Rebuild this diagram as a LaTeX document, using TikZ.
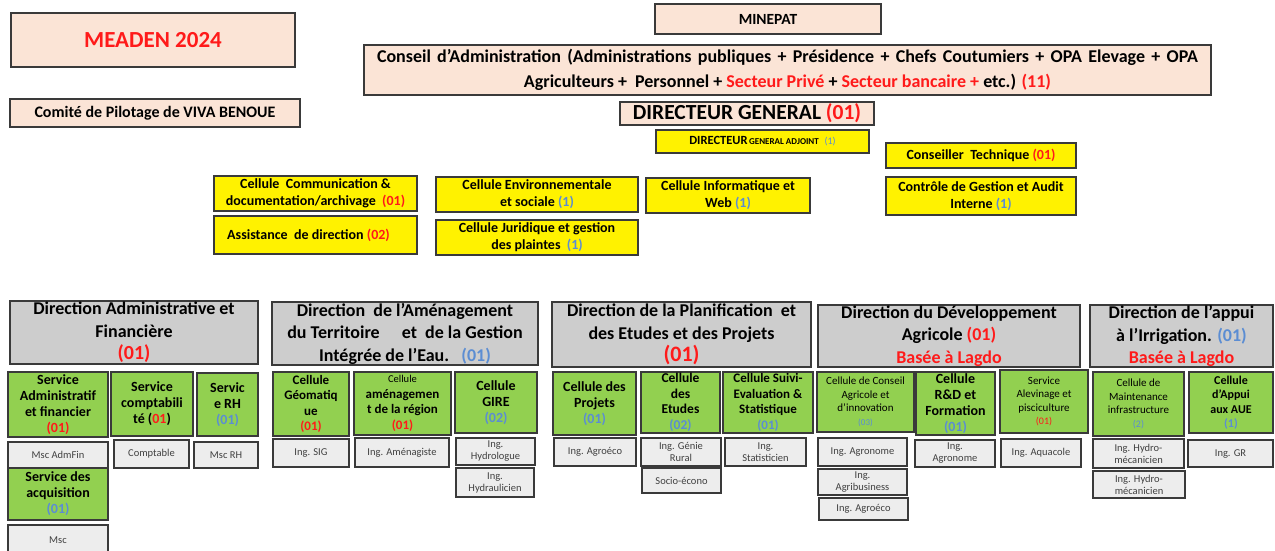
\documentclass[tikz,border=0pt]{standalone}
\usepackage{fontspec}
\setmainfont{Carlito}
\definecolor{peach}{HTML}{FBE4D6}
\definecolor{dirgrey}{HTML}{CDCDCD}
\definecolor{grn}{HTML}{92D050}
\definecolor{subgrey}{HTML}{EDEDED}
\definecolor{bdr}{HTML}{3A3A3A}
\definecolor{redt}{HTML}{FF1A1A}
\definecolor{bluet}{HTML}{5B8DD3}
\definecolor{subtxt}{HTML}{404040}
\newcommand{\rt}[1]{\textcolor{redt}{#1}}
\newcommand{\bt}[1]{\textcolor{bluet}{#1}}
\newcommand{\fs}[2]{\fontsize{#1}{#2}\selectfont}
% box: style, name, x1, y1, x2, y2, text
\newcommand{\bx}[7]{\node[#1, minimum width={(#5)-(#3)}, minimum height={(#6)-(#4)}] (#2) at ({((#3)+(#5))/2},{((#4)+(#6))/2}) {#7};}
\tikzset{
  boxbase/.style={draw=bdr, line width=1.3pt, inner sep=0pt, align=center, text=black},
  peachbox/.style={boxbase, fill=peach},
  ylwbox/.style={boxbase, fill=yellow, font=\bfseries\fs{14}{17}},
  dirbox/.style={boxbase, fill=dirgrey, line width=1.5pt, font=\bfseries\fs{18}{22.5}},
  grnbox/.style={boxbase, fill=grn, font=\bfseries\fs{14}{16}},
  subbox/.style={boxbase, fill=subgrey, text=subtxt, font=\fs{10.5}{12}},
}
\begin{document}
\begin{tikzpicture}[x=1pt, y=-1pt]
\useasboundingbox (0,0) rectangle (1275,550);

% governance and general management
\bx{peachbox, font=\bfseries\fs{23}{26}}{meaden}{11}{13}{295}{67}{\rt{MEADEN 2024}}
\bx{peachbox, font=\bfseries\fs{16}{18}}{copil}{10}{99}{300}{127}{Comité de Pilotage de VIVA BENOUE}
\bx{peachbox, font=\bfseries\fs{15.5}{18}}{minepat}{655}{4}{881}{34}{MINEPAT}
\bx{peachbox, font=\bfseries\fs{18}{25}}{ca}{364}{45}{1211}{95}{\makebox[821pt][s]{Conseil d’Administration (Administrations publiques + Présidence + Chefs Coutumiers + OPA Elevage + OPA}\\Agriculteurs +\ \ Personnel + \rt{Secteur Privé} + \rt{Secteur bancaire +} etc.) \rt{(11)}}
\bx{peachbox, font=\bfseries\fs{21.5}{23}}{dg}{620}{102}{874}{125}{DIRECTEUR GENERAL \rt{(01)}}
\bx{ylwbox, font=\bfseries\fs{12.5}{14}}{dga}{656}{130}{869}{153}{DIRECTEUR{\fs{9}{11}\,GENERAL ADJOINT} \ \bt{\mdseries\fs{10}{11}(1)}}

% staff units attached to the general management
\bx{ylwbox}{ct}{886}{143}{1076}{168}{Conseiller\ \ Technique \rt{(01)}}
\bx{ylwbox}{cga}{886}{177}{1076}{215}{Contrôle de Gestion et Audit\\Interne \bt{(1)}}
\bx{ylwbox}{ccom}{214}{176}{417}{211}{Cellule\ \ Communication \&\\documentation/archivage\ \ \rt{(01)}}
\bx{ylwbox}{assist}{214}{216}{417}{254}{Assistance\ \ de direction \rt{(02)}\hspace{14pt}}
\bx{ylwbox}{cenv}{436}{177}{638}{212}{Cellule Environnementale\\et sociale \bt{(1)}}
\bx{ylwbox}{cjur}{436}{220}{638}{255}{Cellule Juridique et gestion\\des plaintes\ \ \bt{(1)}}
\bx{ylwbox}{cinf}{646}{178}{810}{213}{Cellule Informatique et\\Web \bt{(1)}}

% directorates
\bx{dirbox}{daf}{10}{301}{258}{364}{Direction Administrative et\\Financière\\{\fs{20}{22.5}\rt{(01)}}}
\bx{dirbox}{datgie}{272}{302}{538}{365}{Direction\ \ de l’Aménagement\\du Territoire \quad et\ \ de la Gestion\\Intégrée de l’Eau.\ \ \ \bt{(01)}}
\bx{dirbox}{dpep}{552}{302}{811}{367}{Direction de la Planification\ \ et\\des Etudes et des Projets\\{\fs{22}{22.5}\rt{(01)}}}
\bx{dirbox}{dda}{818}{305}{1080}{367}{Direction du Développement\\Agricole \rt{(01)}\\\rt{Basée à Lagdo}}
\bx{dirbox}{dai}{1090}{305}{1273}{367}{Direction de l’appui\\à l’Irrigation. \bt{(01)}\\\rt{Basée à Lagdo}}

% services and cells
\bx{grnbox}{sadm}{8}{372}{108}{437}{Service\\Administratif\\et financier\\\rt{(01)}}
\bx{grnbox}{scpt}{111}{372}{193}{436}{Service\\comptabili\\té (\rt{01})}
\bx{grnbox}{srh}{197}{373}{258}{436}{Servic\\e RH\\\bt{(01)}}
\bx{grnbox}{sacq}{8}{468}{108}{520}{Service des\\acquisition\\\bt{(01)}}
\bx{grnbox, font=\bfseries\fs{13}{15.5}}{cgeo}{273}{372}{349}{436}{Cellule\\Géomatiq\\ue\\\rt{(01)}}
\bx{grnbox, font=\bfseries\fs{13}{15.5}}{camen}{354}{372}{451}{435}{{\mdseries\fs{10.5}{12}Cellule}\\aménagemen\\t de la région\\\rt{(01)}}
\bx{grnbox}{cgire}{455}{372}{537}{433}{Cellule\\GIRE\\\bt{(02)}}
\bx{grnbox}{cproj}{553}{372}{636}{435}{Cellule des\\Projets\\\bt{(01)}}
\bx{grnbox, font=\bfseries\fs{13.5}{15.5}}{cetu}{641}{372}{720}{433}{Cellule\\des\\Etudes\\\bt{(02)}}
\bx{grnbox, font=\bfseries\fs{13}{15.5}}{csuivi}{723}{372}{813}{433}{Cellule Suivi-\\Evaluation \&\\Statistique\\\bt{(01)}}
\bx{grnbox, font=\fs{11}{13.5}}{ccons}{817}{372}{914}{432}{Cellule de Conseil\\Agricole et\\d’innovation\\{\fs{9}{11}\bt{(03)}}}
\bx{grnbox}{crd}{916}{372}{995}{435}{Cellule\\R\&D et\\Formation\\\bt{(01)}}
\bx{grnbox, font=\fs{11}{13.5}}{salev}{1000}{370}{1088}{433}{Service\\Alevinage et\\pisciculture\\{\fs{10}{11}\rt{(01)}}}
\bx{grnbox, font=\fs{11}{13.5}}{cmaint}{1093}{372}{1184}{436}{Cellule de\\Maintenance\\infrastructure\\{\fs{10}{11}\bt{(2)}}}
\bx{grnbox, font=\bfseries\fs{12}{14.5}}{caue}{1189}{372}{1273}{433}{Cellule\\d’Appui\\aux AUE\\\bt{(1)}}

% staff profiles
\bx{subbox}{mscadm}{8}{442}{108}{468}{Msc AdmFin}
\bx{subbox}{compt}{114}{440}{189}{468}{Comptable}
\bx{subbox}{mscrh}{194}{442}{258}{468}{Msc RH}
\bx{subbox}{msc}{8}{525}{108}{556}{Msc}
\bx{subbox}{sig}{273}{439}{349}{467}{Ing. SIG}
\bx{subbox}{amen}{355}{438}{449}{467}{Ing. Aménagiste}
\bx{subbox}{hydrol}{456}{438}{535}{465}{Ing.\\Hydrologue}
\bx{subbox}{hydrau}{456}{468}{534}{497}{Ing.\\Hydraulicien}
\bx{subbox}{agroecoa}{554}{438}{636}{466}{Ing. Agroéco}
\bx{subbox}{genie}{641}{438}{721}{466}{Ing. Génie\\Rural}
\bx{subbox}{socio}{642}{468}{721}{493}{Socio-écono}
\bx{subbox}{stat}{725}{438}{806}{466}{Ing.\\Statisticien}
\bx{subbox}{agronoa}{818}{438}{907}{466}{Ing. Agronome}
\bx{subbox}{agrib}{818}{469}{907}{495}{Ing.\\Agribusiness}
\bx{subbox}{agroecob}{819}{498}{908}{520}{Ing. Agroéco}
\bx{subbox}{agronob}{915}{440}{995}{467}{Ing.\\Agronome}
\bx{subbox}{aqua}{1001}{439}{1081}{467}{Ing. Aquacole}
\bx{subbox}{hmeca}{1093}{439}{1184}{468}{Ing. Hydro-\\mécanicien}
\bx{subbox}{inggr}{1188}{440}{1273}{467}{Ing. GR}
\bx{subbox}{hmecb}{1093}{471}{1185}{498}{Ing. Hydro-\\mécanicien}
\end{tikzpicture}
\end{document}
